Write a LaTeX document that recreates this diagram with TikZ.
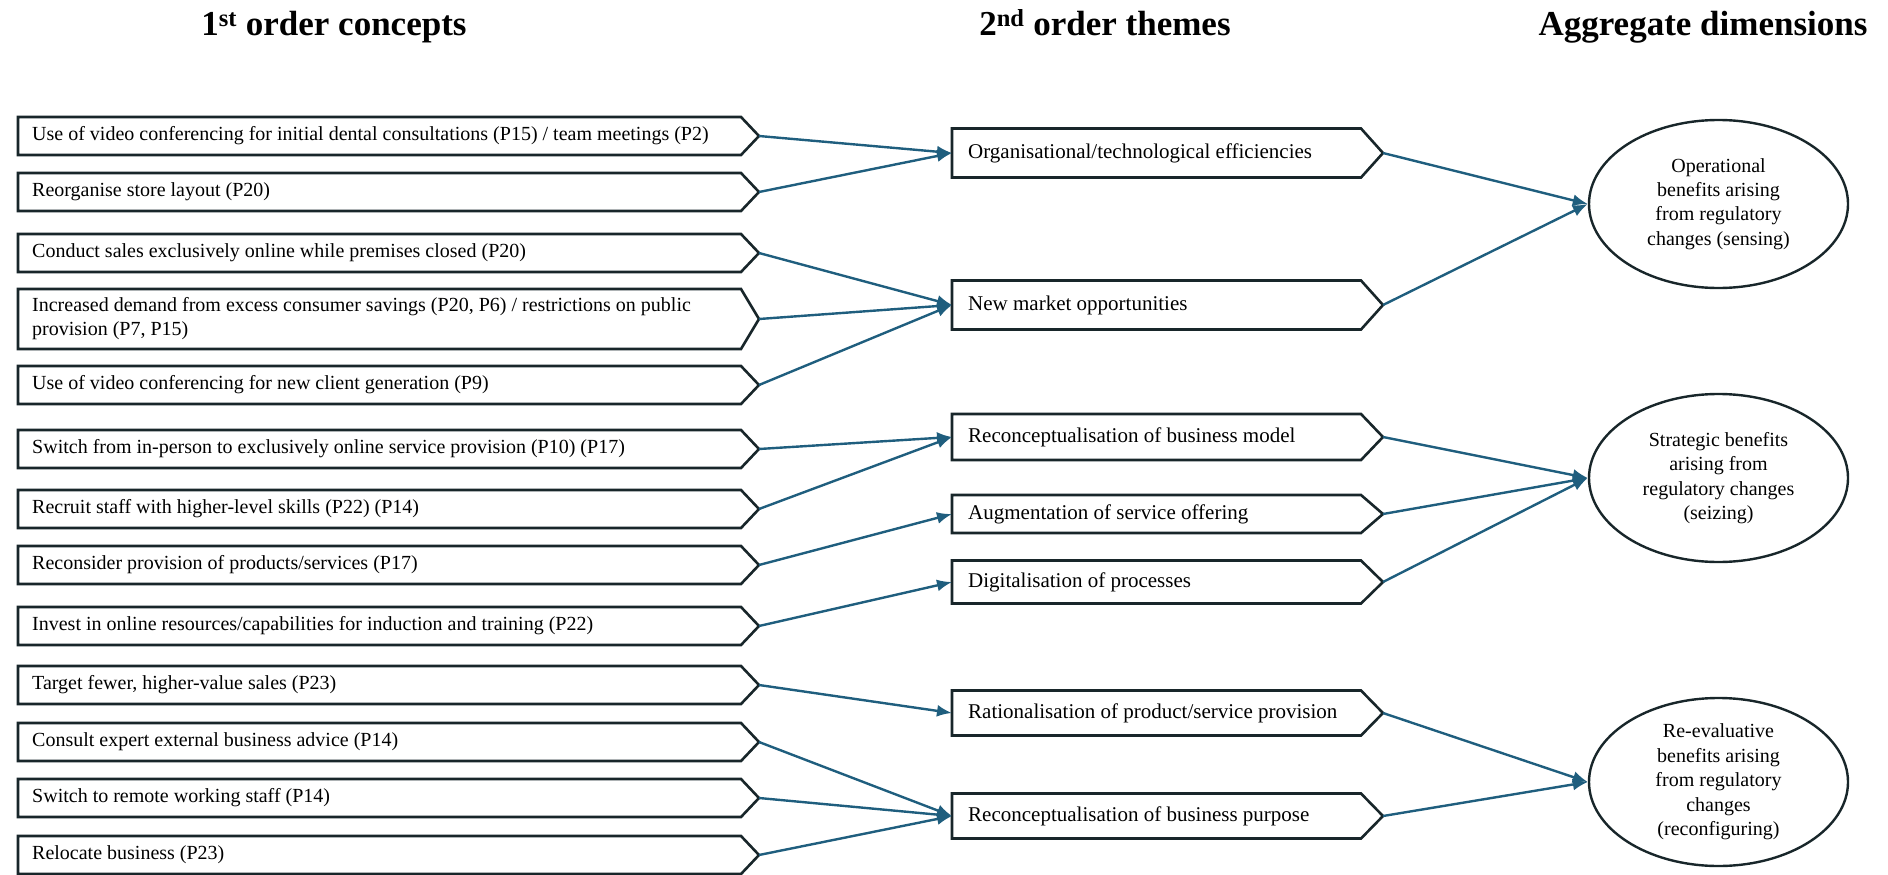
\documentclass[tikz,border=0pt]{standalone}
\usepackage{fontspec}
\setmainfont{Liberation Serif}
\usetikzlibrary{arrows.meta,shapes.geometric}
\definecolor{arr}{HTML}{1F5E7E}
\definecolor{edgec}{HTML}{18262A}
\tikzset{
  boxline/.style={draw=edgec, line width=2.6pt, line join=miter},
  ltext/.style={anchor=west, inner sep=0pt, font=\fontsize{20}{24}\selectfont, align=left},
  mtext/.style={anchor=west, inner sep=0pt, font=\fontsize{21}{25}\selectfont, align=left},
  conn/.style={draw=arr, line width=2.4pt, -{Latex[length=15pt,width=12pt]}},
  agg/.style={ellipse, draw=edgec, line width=2.4pt, minimum width=259pt, minimum height=168pt, inner sep=0pt, align=center, font=\fontsize{20}{24.4}\selectfont},
  head/.style={anchor=base, inner sep=0pt, font=\fontsize{35}{40}\selectfont\bfseries},
}
\newcommand\Lbox[4]{%
  \node[ltext] (#1) at (32,#2) {#4};
  \draw[boxline] (18,#2-#3/2) -- (741,#2-#3/2) -- (759,#2) -- (741,#2+#3/2) -- (18,#2+#3/2) -- cycle;
  \coordinate (#1t) at (759,#2);
}
\newcommand\Mbox[4]{%
  \node[mtext] (#1) at (968,#2) {#4};
  \draw[boxline] (952,#2-#3/2) -- (1361,#2-#3/2) -- (1383,#2) -- (1361,#2+#3/2) -- (952,#2+#3/2) -- cycle;
  \coordinate (#1w) at (952,#2);
  \coordinate (#1t) at (1383,#2);
}
\begin{document}
\begin{tikzpicture}[x=1pt,y=-1pt]
\useasboundingbox (0,0) rectangle (1888,875);
\node[head] (h1) at (334,36) {1\textsuperscript{st} order concepts};
\node[head] (h2) at (1105,36) {2\textsuperscript{nd} order themes};
\node[head] (h3) at (1703,36) {Aggregate dimensions};

\Lbox{L1}{136}{38}{Use of video conferencing for initial dental consultations (P15) / team meetings (P2)}
\Lbox{L2}{192}{38}{Reorganise store layout (P20)}
\Lbox{L3}{253}{38}{Conduct sales exclusively online while premises closed (P20)}
\Lbox{L4}{319}{60}{Increased demand from excess consumer savings (P20, P6) / restrictions on public\\provision (P7, P15)}
\Lbox{L5}{385}{38}{Use of video conferencing for new client generation (P9)}
\Lbox{L6}{449}{38}{Switch from in-person to exclusively online service provision (P10) (P17)}
\Lbox{L7}{509}{38}{Recruit staff with higher-level skills (P22) (P14)}
\Lbox{L8}{565}{38}{Reconsider provision of products/services (P17)}
\Lbox{L9}{626}{38}{Invest in online resources/capabilities for induction and training (P22)}
\Lbox{L10}{685}{38}{Target fewer, higher-value sales (P23)}
\Lbox{L11}{742}{38}{Consult expert external business advice (P14)}
\Lbox{L12}{798}{38}{Switch to remote working staff (P14)}
\Lbox{L13}{855}{38}{Relocate business (P23)}

\Mbox{M1}{153}{49}{Organisational/technological efficiencies}
\Mbox{M2}{305}{49}{New market opportunities}
\Mbox{M3}{437}{46}{Reconceptualisation of business model}
\Mbox{M4}{514}{38}{Augmentation of service offering}
\Mbox{M5}{582}{43}{Digitalisation of processes}
\Mbox{M6}{713}{45}{Rationalisation of product/service provision}
\Mbox{M7}{816}{45}{Reconceptualisation of business purpose}

\node[agg] (A1) at (1718.5,204) {Operational\\benefits arising\\from regulatory\\changes (sensing)};
\node[agg] (A2) at (1718.5,478) {Strategic benefits\\arising from\\regulatory changes\\(seizing)};
\node[agg] (A3) at (1718.5,782) {Re-evaluative\\benefits arising\\from regulatory\\changes\\(reconfiguring)};

\draw[conn] (L1t) -- (M1w);
\draw[conn] (L2t) -- (M1w);
\draw[conn] (L3t) -- (M2w);
\draw[conn] (L4t) -- (M2w);
\draw[conn] (L5t) -- (M2w);
\draw[conn] (L6t) -- (M3w);
\draw[conn] (L7t) -- (M3w);
\draw[conn] (L8t) -- (M4w);
\draw[conn] (L9t) -- (M5w);
\draw[conn] (L10t) -- (M6w);
\draw[conn] (L11t) -- (M7w);
\draw[conn] (L12t) -- (M7w);
\draw[conn] (L13t) -- (M7w);

\draw[conn] (M1t) -- (A1.west);
\draw[conn] (M2t) -- (A1.west);
\draw[conn] (M3t) -- (A2.west);
\draw[conn] (M4t) -- (A2.west);
\draw[conn] (M5t) -- (A2.west);
\draw[conn] (M6t) -- (A3.west);
\draw[conn] (M7t) -- (A3.west);
\end{tikzpicture}
\end{document}
